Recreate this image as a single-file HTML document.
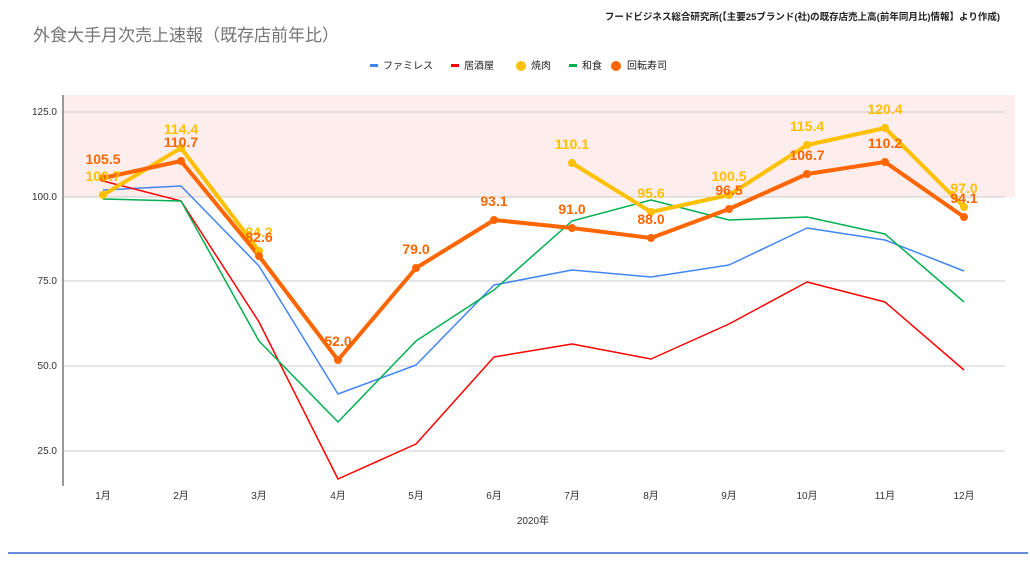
<!DOCTYPE html>
<html><head><meta charset="utf-8"><style>
body{margin:0;background:#fff;}
svg{display:block;font-family:"Liberation Sans","Noto Sans CJK JP",sans-serif;}
</style></head><body>
<svg width="1030" height="575" viewBox="0 0 1030 575">
<text x="33" y="41" font-size="17" fill="#757575">外食大手月次売上速報（既存店前年比）</text>
<text x="1000" y="20" font-size="9.5" font-weight="bold" fill="#222" text-anchor="end">フードビジネス総合研究所(【主要25ブランド(社)の既存店売上高(前年同月比)情報】より作成)</text>
<g font-size="10" fill="#222">
<rect x="370" y="64" width="8" height="3" fill="#4285f4"/><text x="383" y="69">ファミレス</text>
<rect x="451" y="64" width="8" height="3" fill="#ff0000"/><text x="464" y="69">居酒屋</text>
<circle cx="521" cy="66" r="5" fill="#ffc000"/><text x="531" y="69">焼肉</text>
<rect x="569" y="64" width="8" height="3" fill="#00b050"/><text x="582" y="69">和食</text>
<circle cx="616" cy="66" r="5" fill="#ff6600"/><text x="627" y="69">回転寿司</text>
</g>
<rect x="64" y="95" width="951" height="102" fill="#fdeded"/>
<g stroke="#ccc" stroke-width="1">
<line x1="64" y1="112" x2="1005" y2="112"/><line x1="64" y1="197" x2="1005" y2="197"/>
<line x1="64" y1="281" x2="1005" y2="281"/><line x1="64" y1="366" x2="1005" y2="366"/>
<line x1="64" y1="451" x2="1005" y2="451"/>
</g>
<line x1="63" y1="95" x2="63" y2="486" stroke="#333" stroke-width="1"/>
<g font-size="10" fill="#333" text-anchor="end">
<text x="57" y="115">125.0</text><text x="57" y="200">100.0</text><text x="57" y="284">75.0</text><text x="57" y="369">50.0</text><text x="57" y="454">25.0</text>
</g>
<g font-size="10" fill="#333" text-anchor="middle">
<text x="103" y="499">1月</text><text x="181" y="499">2月</text><text x="259" y="499">3月</text><text x="338" y="499">4月</text><text x="416" y="499">5月</text><text x="494" y="499">6月</text><text x="572" y="499">7月</text><text x="651" y="499">8月</text><text x="729" y="499">9月</text><text x="807" y="499">10月</text><text x="885" y="499">11月</text><text x="964" y="499">12月</text>
<text x="533" y="524">2020年</text>
</g>
<g fill="none" stroke-linejoin="round">
<polyline stroke="#4285f4" stroke-width="1.5" points="103,190 181,186 259,266 338,394 416,365 494,285 572,270 651,277 729,265 807,228 885,240 964,271"/>
<polyline stroke="#ff0000" stroke-width="1.5" points="103,181 181,201 259,322 338,479 416,444 494,357 572,344 651,359 729,324 807,282 885,302 964,370"/>
<polyline stroke="#00b050" stroke-width="1.5" points="103,199 181,201 259,341 338,422 416,341 494,290 572,221 651,200 729,220 807,217 885,234 964,302"/>
<polyline stroke="#ffc000" stroke-width="4" points="103,195 181,148 259,251"/>
<polyline stroke="#ffc000" stroke-width="4" points="572,163 651,212 729,195 807,145 885,128 964,207"/>
<polyline stroke="#ff6600" stroke-width="4" points="103,178 181,161 259,256 338,360 416,268 494,220 572,228 651,238 729,209 807,174 885,162 964,217"/>
</g>
<g fill="#ffc000">
<circle cx="103" cy="195" r="4"/><circle cx="181" cy="148" r="4"/><circle cx="259" cy="251" r="4"/>
<circle cx="572" cy="163" r="4"/><circle cx="651" cy="212" r="4"/><circle cx="729" cy="195" r="4"/><circle cx="807" cy="145" r="4"/><circle cx="885" cy="128" r="4"/><circle cx="964" cy="207" r="4"/>
</g>
<g fill="#ff6600">
<circle cx="103" cy="178" r="4"/><circle cx="181" cy="161" r="4"/><circle cx="259" cy="256" r="4"/><circle cx="338" cy="360" r="4"/><circle cx="416" cy="268" r="4"/><circle cx="494" cy="220" r="4"/><circle cx="572" cy="228" r="4"/><circle cx="651" cy="238" r="4"/><circle cx="729" cy="209" r="4"/><circle cx="807" cy="174" r="4"/><circle cx="885" cy="162" r="4"/><circle cx="964" cy="217" r="4"/>
</g>
<g font-size="14" font-weight="bold" text-anchor="middle" fill="#ffc000">
<text x="103" y="181">100.7</text><text x="181" y="134">114.4</text><text x="259" y="237">84.2</text>
<text x="572" y="149">110.1</text><text x="651" y="198">95.6</text><text x="729" y="181">100.5</text><text x="807" y="131">115.4</text><text x="885" y="114">120.4</text><text x="964" y="193">97.0</text>
</g>
<g font-size="14" font-weight="bold" text-anchor="middle" fill="#ff6600">
<text x="103" y="164">105.5</text><text x="181" y="147">110.7</text><text x="259" y="242">82.6</text><text x="338" y="346">52.0</text><text x="416" y="254">79.0</text><text x="494" y="206">93.1</text><text x="572" y="214">91.0</text><text x="651" y="224">88.0</text><text x="729" y="195">96.5</text><text x="807" y="160">106.7</text><text x="885" y="148">110.2</text><text x="964" y="203">94.1</text>
</g>
<line x1="8" y1="553" x2="1028" y2="553" stroke="#3366cc" stroke-width="1.5"/>
</svg>
</body></html>
